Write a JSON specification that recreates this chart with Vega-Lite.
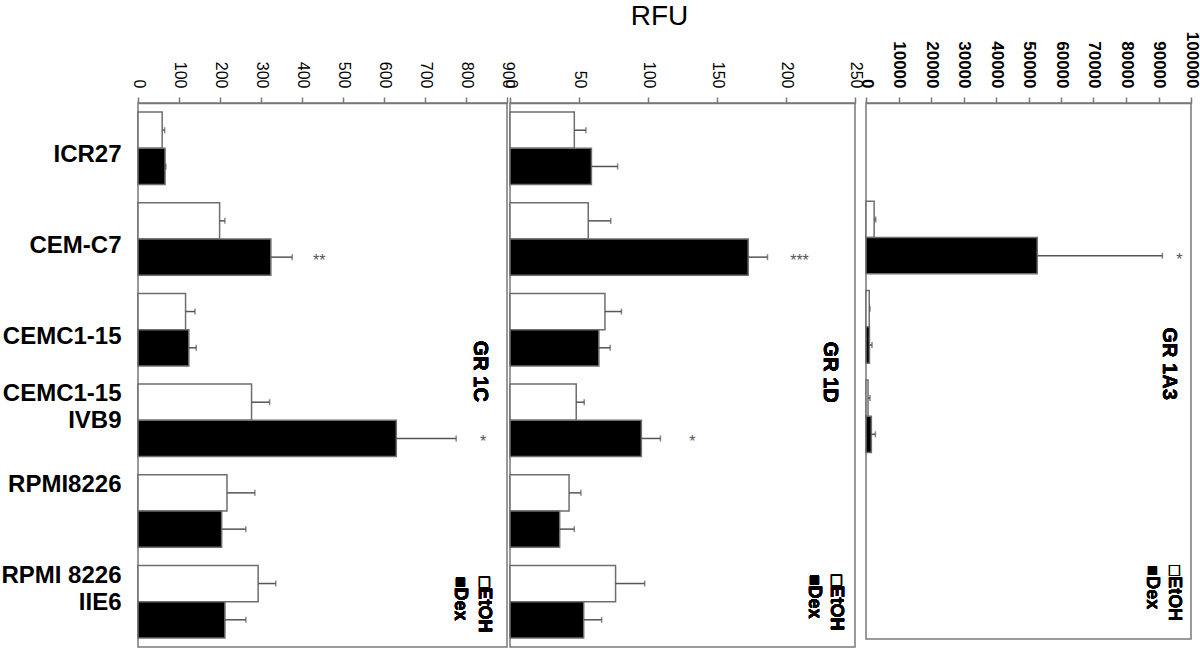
{
  "$schema": "https://vega.github.io/schema/vega-lite/v6.json",
  "padding": {"left": 0, "top": 2, "right": 0, "bottom": 3},
  "background": "white",
  "config": {
    "font": "Liberation Sans",
    "view": {"stroke": "#7a7a7a", "strokeWidth": 1.5},
    "axis": {"labelColor": "black", "domainColor": "#777", "tickColor": "#777", "domainWidth": 1.5, "tickWidth": 1.5, "labelOverlap": false, "labelFlush": false, "labelBound": false}
  },
  "title": {"text": "RFU", "fontSize": 28, "fontWeight": "normal", "anchor": "middle", "offset": 0, "dx": 59, "color": "black"},
  "datasets": {
    "bars": [
      {"panel": "1C", "line": "ICR27", "treatment": "EtOH", "value": 59, "upper": 65, "sig": ""},
      {"panel": "1C", "line": "ICR27", "treatment": "Dex", "value": 66, "upper": 68, "sig": ""},
      {"panel": "1C", "line": "CEM-C7", "treatment": "EtOH", "value": 199, "upper": 212, "sig": ""},
      {"panel": "1C", "line": "CEM-C7", "treatment": "Dex", "value": 324, "upper": 376, "sig": "**"},
      {"panel": "1C", "line": "CEMC1-15", "treatment": "EtOH", "value": 116, "upper": 139, "sig": ""},
      {"panel": "1C", "line": "CEMC1-15", "treatment": "Dex", "value": 124, "upper": 142, "sig": ""},
      {"panel": "1C", "line": "CEMC1-15 IVB9", "treatment": "EtOH", "value": 277, "upper": 321, "sig": ""},
      {"panel": "1C", "line": "CEMC1-15 IVB9", "treatment": "Dex", "value": 630, "upper": 776, "sig": "*"},
      {"panel": "1C", "line": "RPMI8226", "treatment": "EtOH", "value": 217, "upper": 285, "sig": ""},
      {"panel": "1C", "line": "RPMI8226", "treatment": "Dex", "value": 204, "upper": 263, "sig": ""},
      {"panel": "1C", "line": "RPMI 8226 IIE6", "treatment": "EtOH", "value": 293, "upper": 336, "sig": ""},
      {"panel": "1C", "line": "RPMI 8226 IIE6", "treatment": "Dex", "value": 212, "upper": 263, "sig": ""},
      {"panel": "1D", "line": "ICR27", "treatment": "EtOH", "value": 46.6, "upper": 55, "sig": ""},
      {"panel": "1D", "line": "ICR27", "treatment": "Dex", "value": 59, "upper": 78, "sig": ""},
      {"panel": "1D", "line": "CEM-C7", "treatment": "EtOH", "value": 56.7, "upper": 73, "sig": ""},
      {"panel": "1D", "line": "CEM-C7", "treatment": "Dex", "value": 172.6, "upper": 186.6, "sig": "***"},
      {"panel": "1D", "line": "CEMC1-15", "treatment": "EtOH", "value": 68.8, "upper": 80.8, "sig": ""},
      {"panel": "1D", "line": "CEMC1-15", "treatment": "Dex", "value": 64.4, "upper": 72.6, "sig": ""},
      {"panel": "1D", "line": "CEMC1-15 IVB9", "treatment": "EtOH", "value": 48, "upper": 53.8, "sig": ""},
      {"panel": "1D", "line": "CEMC1-15 IVB9", "treatment": "Dex", "value": 95.2, "upper": 109, "sig": "*"},
      {"panel": "1D", "line": "RPMI8226", "treatment": "EtOH", "value": 42.8, "upper": 51.4, "sig": ""},
      {"panel": "1D", "line": "RPMI8226", "treatment": "Dex", "value": 36, "upper": 46.6, "sig": ""},
      {"panel": "1D", "line": "RPMI 8226 IIE6", "treatment": "EtOH", "value": 76.5, "upper": 97.6, "sig": ""},
      {"panel": "1D", "line": "RPMI 8226 IIE6", "treatment": "Dex", "value": 53.4, "upper": 66.4, "sig": ""},
      {"panel": "1A3", "line": "CEM-C7", "treatment": "EtOH", "value": 2500, "upper": 3000, "sig": ""},
      {"panel": "1A3", "line": "CEM-C7", "treatment": "Dex", "value": 52700, "upper": 91200, "sig": "*"},
      {"panel": "1A3", "line": "CEMC1-15", "treatment": "EtOH", "value": 1000, "upper": 1200, "sig": ""},
      {"panel": "1A3", "line": "CEMC1-15", "treatment": "Dex", "value": 1050, "upper": 1850, "sig": ""},
      {"panel": "1A3", "line": "CEMC1-15 IVB9", "treatment": "EtOH", "value": 620, "upper": 1230, "sig": ""},
      {"panel": "1A3", "line": "CEMC1-15 IVB9", "treatment": "Dex", "value": 1650, "upper": 2900, "sig": ""}
    ]
  },
  "data": {"name": "bars"},
  "bounds": "flush",
  "spacing": 3,
  "hconcat": [
    {
      "width": 369,
      "height": 544,
      "transform": [{"filter": "datum.panel == '1C'"}],
      "encoding": {
        "y": {
          "field": "line", "type": "nominal", "title": null,
          "scale": {"domain": ["ICR27", "CEM-C7", "CEMC1-15", "CEMC1-15 IVB9", "RPMI8226", "RPMI 8226 IIE6"], "paddingInner": 0.2, "paddingOuter": 0.1},
          "axis": {
            "domain": false, "ticks": false, "labelFontSize": 24, "labelFontWeight": "bold", "labelPadding": 17,
            "labelLineHeight": 27, "labelLimit": 300,
            "labelExpr": "datum.value == 'CEMC1-15 IVB9' ? ['CEMC1-15', 'IVB9'] : datum.value == 'RPMI 8226 IIE6' ? ['RPMI 8226', 'IIE6'] : datum.value",
            "labelOffset": {"condition": {"test": "datum.value == 'CEMC1-15 IVB9' || datum.value == 'RPMI 8226 IIE6' || datum.value == 'RPMI8226'", "value": -26}, "value": 7}
          }
        }
      },
      "layer": [
        {
          "mark": {"type": "bar", "stroke": "#6e6e6e", "strokeWidth": 1.5},
          "encoding": {
            "x": {"field": "value", "type": "quantitative", "scale": {"domain": [0, 900], "nice": false},
              "axis": {"orient": "top", "title": null, "values": [0, 100, 200, 300, 400, 500, 600, 700, 800, 900], "tickCount": 10, "labelAngle": 90, "labelAlign": "right", "labelBaseline": "middle", "labelFontSize": 16, "labelPadding": 9, "tickSize": 6, "labelFlush": false, "labelOverlap": false, "labelBound": false, "grid": false}},
            "yOffset": {"field": "treatment", "sort": ["EtOH", "Dex"], "scale": {"paddingInner": 0}},
            "color": {"field": "treatment", "type": "nominal", "scale": {"domain": ["EtOH", "Dex"], "range": ["white", "black"]}, "legend": null}
          }
        },
        {
          "mark": {"type": "rule", "color": "#555", "strokeWidth": 1.5},
          "encoding": {
            "x": {"field": "value", "type": "quantitative"},
            "x2": {"field": "upper"},
            "yOffset": {"field": "treatment", "sort": ["EtOH", "Dex"]}
          }
        },
        {
          "mark": {"type": "tick", "color": "#555", "size": 6, "thickness": 1.5},
          "encoding": {
            "x": {"field": "upper", "type": "quantitative"},
            "yOffset": {"field": "treatment", "sort": ["EtOH", "Dex"]}
          }
        },
        {
          "transform": [{"filter": "datum.sig != ''"}],
          "mark": {"type": "text", "color": "#555", "fontSize": 16, "align": "center", "baseline": "middle", "dy": 4, "xOffset": 27},
          "encoding": {
            "x": {"field": "upper", "type": "quantitative"},
            "yOffset": {"field": "treatment", "sort": ["EtOH", "Dex"]},
            "text": {"field": "sig"}
          }
        },
        {
          "mark": {"type": "text", "angle": 90, "fontSize": 20, "fontWeight": "bold", "align": "center", "baseline": "middle", "yOffset": -49},
          "encoding": {"x": {"datum": 834, "type": "quantitative"}, "y": {"datum": "CEMC1-15 IVB9", "type": "nominal"}, "text": {"value": "GR 1C"}}
        },
        {
          "mark": {"type": "text", "angle": 90, "fontSize": 18, "fontWeight": "bold", "align": "left", "baseline": "middle", "yOffset": -25},
          "encoding": {"x": {"datum": 844, "type": "quantitative"}, "y": {"datum": "RPMI 8226 IIE6", "type": "nominal"}, "text": {"value": "□EtOH"}}
        },
        {
          "mark": {"type": "text", "angle": 90, "fontSize": 18, "fontWeight": "bold", "align": "left", "baseline": "middle", "yOffset": -25},
          "encoding": {"x": {"datum": 785, "type": "quantitative"}, "y": {"datum": "RPMI 8226 IIE6", "type": "nominal"}, "text": {"value": "■Dex"}}
        }
      ]
    },
    {
      "width": 345,
      "height": 544,
      "transform": [{"filter": "datum.panel == '1D'"}],
      "encoding": {
        "y": {
          "field": "line", "type": "nominal", "title": null,
          "scale": {"domain": ["ICR27", "CEM-C7", "CEMC1-15", "CEMC1-15 IVB9", "RPMI8226", "RPMI 8226 IIE6"], "paddingInner": 0.2, "paddingOuter": 0.1},
          "axis": null
        }
      },
      "layer": [
        {
          "mark": {"type": "bar", "stroke": "#6e6e6e", "strokeWidth": 1.5},
          "encoding": {
            "x": {"field": "value", "type": "quantitative", "scale": {"domain": [0, 250], "nice": false},
              "axis": {"orient": "top", "title": null, "values": [0, 50, 100, 150, 200, 250], "tickCount": 6, "labelAngle": 90, "labelAlign": "right", "labelBaseline": "middle", "labelFontSize": 16, "labelPadding": 9, "tickSize": 6, "labelFlush": false, "labelOverlap": false, "labelBound": false, "grid": false}},
            "yOffset": {"field": "treatment", "sort": ["EtOH", "Dex"], "scale": {"paddingInner": 0}},
            "color": {"field": "treatment", "type": "nominal", "scale": {"domain": ["EtOH", "Dex"], "range": ["white", "black"]}, "legend": null}
          }
        },
        {
          "mark": {"type": "rule", "color": "#555", "strokeWidth": 1.5},
          "encoding": {
            "x": {"field": "value", "type": "quantitative"},
            "x2": {"field": "upper"},
            "yOffset": {"field": "treatment", "sort": ["EtOH", "Dex"]}
          }
        },
        {
          "mark": {"type": "tick", "color": "#555", "size": 6, "thickness": 1.5},
          "encoding": {
            "x": {"field": "upper", "type": "quantitative"},
            "yOffset": {"field": "treatment", "sort": ["EtOH", "Dex"]}
          }
        },
        {
          "transform": [{"filter": "datum.sig != ''"}],
          "mark": {"type": "text", "color": "#555", "fontSize": 16, "align": "center", "baseline": "middle", "dy": 4, "xOffset": 32},
          "encoding": {
            "x": {"field": "upper", "type": "quantitative"},
            "yOffset": {"field": "treatment", "sort": ["EtOH", "Dex"]},
            "text": {"field": "sig"}
          }
        },
        {
          "mark": {"type": "text", "angle": 90, "fontSize": 20, "fontWeight": "bold", "align": "center", "baseline": "middle", "yOffset": -48},
          "encoding": {"x": {"datum": 231.6, "type": "quantitative"}, "y": {"datum": "CEMC1-15 IVB9", "type": "nominal"}, "text": {"value": "GR 1D"}}
        },
        {
          "mark": {"type": "text", "angle": 90, "fontSize": 18, "fontWeight": "bold", "align": "left", "baseline": "middle", "yOffset": -27},
          "encoding": {"x": {"datum": 236, "type": "quantitative"}, "y": {"datum": "RPMI 8226 IIE6", "type": "nominal"}, "text": {"value": "□EtOH"}}
        },
        {
          "mark": {"type": "text", "angle": 90, "fontSize": 18, "fontWeight": "bold", "align": "left", "baseline": "middle", "yOffset": -27},
          "encoding": {"x": {"datum": 220, "type": "quantitative"}, "y": {"datum": "RPMI 8226 IIE6", "type": "nominal"}, "text": {"value": "■Dex"}}
        }
      ]
    },
    {
      "width": 5,
      "height": 544,
      "view": {"stroke": null},
      "transform": [{"filter": "datum.panel == 'none'"}],
      "mark": {"type": "point", "opacity": 0},
      "encoding": {}
    },
    {
      "width": 325,
      "height": 536,
      "transform": [{"filter": "datum.panel == '1A3'"}],
      "encoding": {
        "y": {
          "field": "line", "type": "nominal", "title": null,
          "scale": {"domain": ["ICR27", "CEM-C7", "CEMC1-15", "CEMC1-15 IVB9", "RPMI8226", "RPMI 8226 IIE6"], "paddingInner": 0.2, "paddingOuter": 0.1},
          "axis": null
        }
      },
      "layer": [
        {
          "mark": {"type": "bar", "stroke": "#6e6e6e", "strokeWidth": 1.5},
          "encoding": {
            "x": {"field": "value", "type": "quantitative", "scale": {"domain": [0, 100000], "nice": false},
              "axis": {"orient": "top", "title": null, "values": [0, 10000, 20000, 30000, 40000, 50000, 60000, 70000, 80000, 90000, 100000], "tickCount": 11, "format": "d", "labelAngle": 90, "labelAlign": "right", "labelBaseline": "middle", "labelFontSize": 17, "labelFontWeight": "bold", "labelPadding": 9, "tickSize": 6, "labelFlush": false, "labelOverlap": false, "labelBound": false, "grid": false}},
            "yOffset": {"field": "treatment", "sort": ["EtOH", "Dex"], "scale": {"paddingInner": 0}},
            "color": {"field": "treatment", "type": "nominal", "scale": {"domain": ["EtOH", "Dex"], "range": ["white", "black"]}, "legend": null}
          }
        },
        {
          "mark": {"type": "rule", "color": "#555", "strokeWidth": 1.5},
          "encoding": {
            "x": {"field": "value", "type": "quantitative"},
            "x2": {"field": "upper"},
            "yOffset": {"field": "treatment", "sort": ["EtOH", "Dex"]}
          }
        },
        {
          "mark": {"type": "tick", "color": "#555", "size": 6, "thickness": 1.5},
          "encoding": {
            "x": {"field": "upper", "type": "quantitative"},
            "yOffset": {"field": "treatment", "sort": ["EtOH", "Dex"]}
          }
        },
        {
          "transform": [{"filter": "datum.sig != ''"}],
          "mark": {"type": "text", "color": "#555", "fontSize": 16, "align": "center", "baseline": "middle", "dy": 4, "xOffset": 17},
          "encoding": {
            "x": {"field": "upper", "type": "quantitative"},
            "yOffset": {"field": "treatment", "sort": ["EtOH", "Dex"]},
            "text": {"field": "sig"}
          }
        },
        {
          "mark": {"type": "text", "angle": 90, "fontSize": 20, "fontWeight": "bold", "align": "center", "baseline": "middle", "yOffset": -52},
          "encoding": {"x": {"datum": 93350, "type": "quantitative"}, "y": {"datum": "CEMC1-15 IVB9", "type": "nominal"}, "text": {"value": "GR 1A3"}}
        },
        {
          "mark": {"type": "text", "angle": 90, "fontSize": 18, "fontWeight": "bold", "align": "left", "baseline": "middle", "yOffset": -29},
          "encoding": {"x": {"datum": 94680, "type": "quantitative"}, "y": {"datum": "RPMI 8226 IIE6", "type": "nominal"}, "text": {"value": "□EtOH"}}
        },
        {
          "mark": {"type": "text", "angle": 90, "fontSize": 18, "fontWeight": "bold", "align": "left", "baseline": "middle", "yOffset": -29},
          "encoding": {"x": {"datum": 87850, "type": "quantitative"}, "y": {"datum": "RPMI 8226 IIE6", "type": "nominal"}, "text": {"value": "■Dex"}}
        }
      ]
    }
  ]
}
